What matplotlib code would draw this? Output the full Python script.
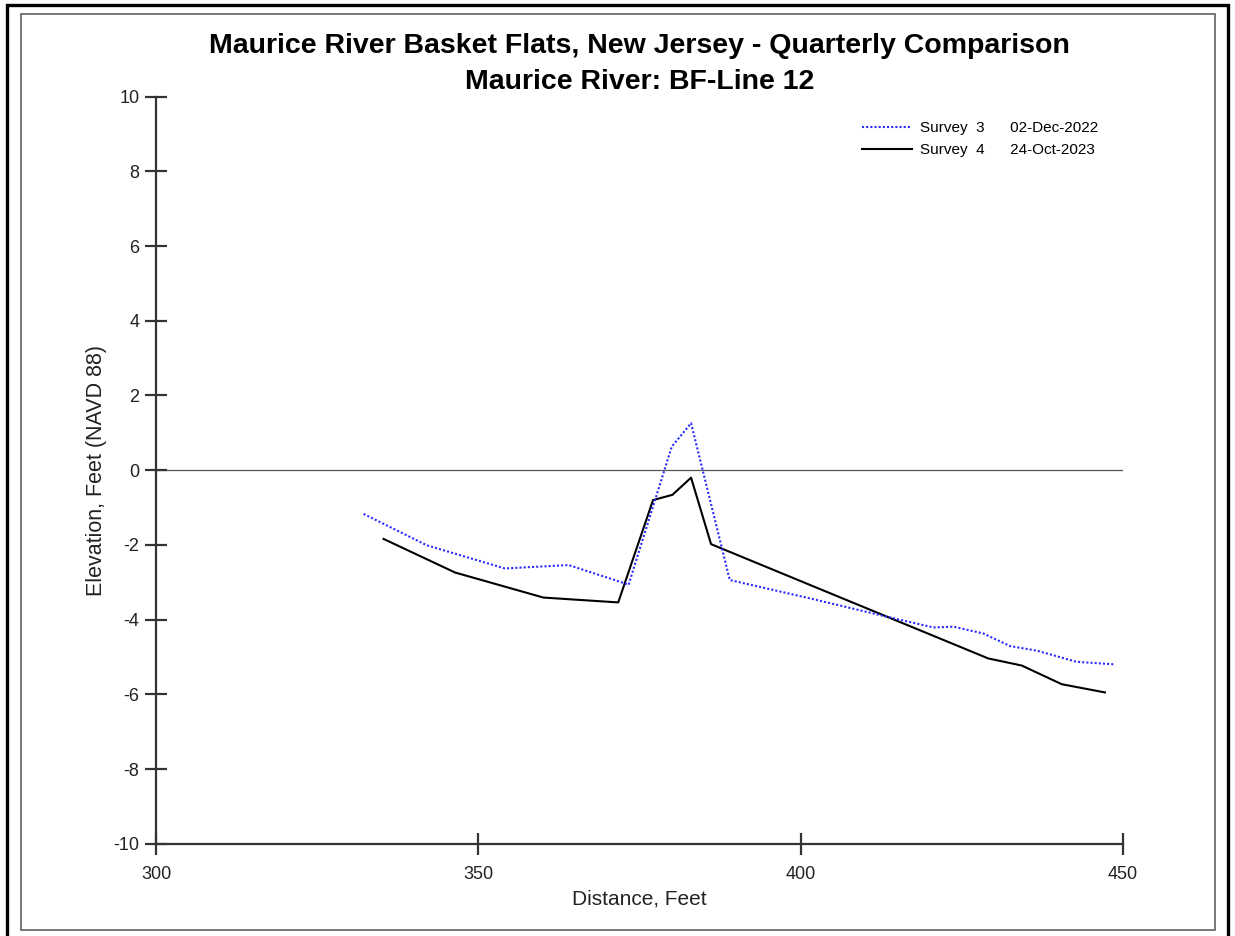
import matplotlib
matplotlib.use("Agg")
import matplotlib.pyplot as plt
from matplotlib.patches import Rectangle

plt.rcParams['font.family'] = ['Liberation Sans', 'DejaVu Sans']
plt.rcParams['axes.unicode_minus'] = False

# Survey 3 (02-Dec-2022) profile
s3_dist = [332.2, 342.0, 354.1, 364.0, 372.2, 373.3, 380.0, 383.0, 389.0,
           401.4, 413.3, 420.6, 423.7, 428.3, 432.5, 436.6, 442.8, 448.8]
s3_elev = [-1.17, -2.01, -2.63, -2.54, -3.00, -3.07, 0.63, 1.26, -2.94,
           -3.43, -3.92, -4.21, -4.19, -4.37, -4.71, -4.83, -5.13, -5.20]

# Survey 4 (24-Oct-2023) profile
s4_dist = [335.3, 346.4, 360.1, 371.7, 377.1, 380.1, 383.0, 386.1,
           429.1, 434.3, 440.5, 447.2]
s4_elev = [-1.84, -2.74, -3.41, -3.54, -0.80, -0.66, -0.20, -1.98,
           -5.04, -5.23, -5.73, -5.95]

survey_names = ["Survey  3", "Survey  4"]
survey_dates = ["02-Dec-2022", "24-Oct-2023"]

x_ticks = [300, 350, 400, 450]
y_ticks = [-10, -8, -6, -4, -2, 0, 2, 4, 6, 8, 10]

W, H = 1235, 936
fig = plt.figure(figsize=(W / 100, H / 100), dpi=100)

def fx(px):
    return px / W

def fy(py):
    return 1 - py / H

# page frame: heavy outer border and thin inner border
fig.patches.append(Rectangle((fx(6.5), fy(945)), fx(1228) - fx(6.5), fy(4.5) - fy(945),
                             transform=fig.transFigure, fill=False, lw=2.4,
                             edgecolor='black'))
fig.patches.append(Rectangle((fx(20.5), fy(930)), fx(1215) - fx(20.5), fy(14) - fy(930),
                             transform=fig.transFigure, fill=False, lw=1.1,
                             edgecolor='#555555'))

ax = fig.add_axes([fx(156), fy(843.7), fx(1123) - fx(156), fy(96.7) - fy(843.7)])
ax.set_xlim(300, 450)
ax.set_ylim(-10, 10)

ax.axhline(0, color='#555555', lw=0.9, zorder=1)

l3, = ax.plot(s3_dist, s3_elev, color='#2a2aff', lw=1.5, ls=(0, (1, 1)), zorder=3)
l4, = ax.plot(s4_dist, s4_elev, color='black', lw=1.5, zorder=2)

for side in ('top', 'right'):
    ax.spines[side].set_visible(False)
for side in ('left', 'bottom'):
    ax.spines[side].set_linewidth(1.6)
    ax.spines[side].set_color('#333333')

ax.set_xticks(x_ticks)
ax.set_yticks(y_ticks)
ax.tick_params(direction='inout', length=16, width=1.6, color='#333333',
               labelsize=13, labelcolor='#222222')
ax.tick_params(axis='x', pad=8)
ax.tick_params(axis='y', pad=4)

ax.set_xlabel("Distance, Feet", fontsize=15, color='#222222', labelpad=5)
ax.set_ylabel("Elevation, Feet (NAVD 88)", fontsize=15.5, color='#222222')
ax.yaxis.set_label_coords(-0.051, 0.5)

labels = [f"{n}      {d}" for n, d in zip(survey_names, survey_dates)]
ax.legend([l3, l4], labels, loc='upper left', bbox_to_anchor=(0.730, 0.967),
          frameon=False, fontsize=11, handlelength=3.3, handletextpad=0.5,
          labelspacing=0.53, borderpad=0, borderaxespad=0)

fig.text(fx(639.5), fy(52.7), "Maurice River Basket Flats, New Jersey - Quarterly Comparison",
         ha='center', va='baseline', fontsize=20.5, fontweight='bold')
fig.text(fx(639.5), fy(89), "Maurice River: BF-Line 12",
         ha='center', va='baseline', fontsize=20.5, fontweight='bold')

fig.savefig("out.png", dpi=100)
